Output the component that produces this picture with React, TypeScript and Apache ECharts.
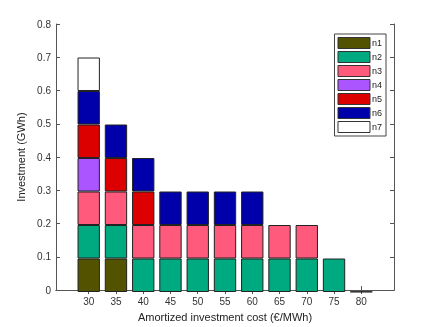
import React, { useEffect, useRef } from "react";
import * as echarts from "echarts";

const costs = [30, 35, 40, 45, 50, 55, 60, 65, 70, 75, 80];
const costLabels = costs.map(String);
const seriesNames = ["n1", "n2", "n3", "n4", "n5", "n6", "n7"];
const n1 = [0.1, 0.1, 0, 0, 0, 0, 0, 0, 0, 0, 0];
const n2 = [0.1, 0.1, 0.1, 0.1, 0.1, 0.1, 0.1, 0.1, 0.1, 0.1, 0.001];
const n3 = [0.1, 0.1, 0.1, 0.1, 0.1, 0.1, 0.1, 0.1, 0.1, 0, 0];
const n4 = [0.1, 0, 0, 0, 0, 0, 0, 0, 0, 0, 0];
const n5 = [0.1, 0.1, 0.1, 0, 0, 0, 0, 0, 0, 0, 0];
const n6 = [0.1, 0.1, 0.1, 0.1, 0.1, 0.1, 0.1, 0, 0, 0, 0];
const n7 = [0.1, 0, 0, 0, 0, 0, 0, 0, 0, 0, 0];
const colors = ["#525200", "#00aa80", "#ff5a7c", "#aa55ff", "#dd0000", "#0000aa", "#ffffff"];

export default function App() {
  const ref = useRef<HTMLDivElement>(null);
  useEffect(() => {
    const chart = echarts.init(ref.current!, null, { renderer: "svg" });
    const all = [n1, n2, n3, n4, n5, n6, n7];
    const font = "Liberation Sans";
    const axisLine = { show: true, lineStyle: { color: "#555", width: 1 } };
    const tickStyle = { color: "#555" };
    // frame grid (index 0) and bar grid (index 1), aligned so that category centres
    // coincide with the value-axis ticks (x range 24..86 over 338 px)
    const L = 56, R = 394, xmin = 24, xmax = 86;
    const pxPerUnit = (R - L) / (xmax - xmin);
    const step = 5 * pxPerUnit;
    const barLeft = L + (costs[0] - xmin) * pxPerUnit - step / 2;
    const barRight = barLeft + step * costs.length;
    chart.setOption({
      animation: false,
      textStyle: { fontFamily: font },
      grid: [
        { left: L, right: 436 - R, top: 24, bottom: 35 },
        { left: barLeft, right: 436 - barRight, top: 24, bottom: 35 },
      ],
      legend: {
        data: seriesNames,
        orient: "vertical",
        right: 50,
        top: 34,
        icon: "rect",
        itemWidth: 32,
        itemHeight: 11,
        itemGap: 2,
        padding: [3, 4, 3, 3],
        borderColor: "#444",
        borderWidth: 1,
        backgroundColor: "#fff",
        textStyle: { fontSize: 9, color: "#222", fontFamily: font, padding: [0, 0, 0, -3] },
        itemStyle: { borderColor: "#333", borderWidth: 1 },
      },
      xAxis: [
        {
          gridIndex: 0,
          type: "value",
          min: xmin,
          max: xmax,
          name: "Amortized investment cost (€/MWh)",
          nameLocation: "middle",
          nameGap: 20,
          nameTextStyle: { fontSize: 11, color: "#222" },
          axisLine,
          splitLine: { show: false },
          axisTick: { show: true, inside: true, length: 4, customValues: costs, lineStyle: tickStyle },
          axisLabel: { customValues: costs, fontSize: 10, color: "#333", margin: 6 },
        },
        {
          gridIndex: 0,
          type: "value",
          position: "top",
          min: xmin,
          max: xmax,
          axisLine,
          splitLine: { show: false },
          axisTick: { show: true, inside: true, length: 4, customValues: costs, lineStyle: tickStyle },
          axisLabel: { show: false },
        },
        {
          gridIndex: 1,
          type: "category",
          data: costLabels,
          axisLine: { show: false },
          axisTick: { show: false },
          axisLabel: { show: false },
          splitLine: { show: false },
        },
      ],
      yAxis: [
        {
          gridIndex: 0,
          type: "value",
          min: 0,
          max: 0.8,
          interval: 0.1,
          name: "Investment (GWh)",
          nameLocation: "middle",
          nameGap: 21,
          nameTextStyle: { fontSize: 11, color: "#222" },
          axisLine,
          splitLine: { show: false },
          axisTick: { show: true, inside: true, length: 4, lineStyle: tickStyle },
          axisLabel: {
            fontSize: 10,
            color: "#333",
            margin: 5,
            formatter: (v: number) => (v === 0 ? "0" : String(Math.round(v * 10) / 10)),
          },
        },
        {
          gridIndex: 0,
          type: "value",
          position: "right",
          min: 0,
          max: 0.8,
          interval: 0.1,
          axisLine,
          splitLine: { show: false },
          axisTick: { show: true, inside: true, length: 4, lineStyle: tickStyle },
          axisLabel: { show: false },
        },
        {
          gridIndex: 1,
          type: "value",
          min: 0,
          max: 0.8,
          show: false,
        },
      ],
      series: seriesNames.map((name, i) => ({
        name,
        type: "bar",
        stack: "total",
        barWidth: "82%",
        xAxisIndex: 2,
        yAxisIndex: 2,
        itemStyle: { color: colors[i], borderColor: "#222", borderWidth: 1 },
        data: all[i].map((v) => (v === 0 ? "-" : v)),
      })),
    });
    return () => chart.dispose();
  }, []);
  return (
    <div
      ref={ref}
      style={{ position: "fixed", left: 0, top: 0, width: 436, height: 327 }}
    />
  );
}
